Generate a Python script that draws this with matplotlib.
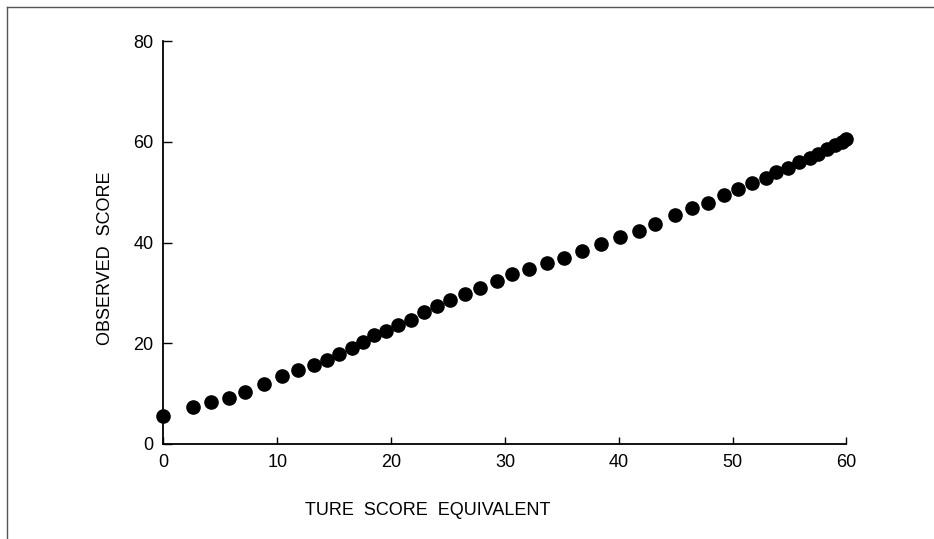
import numpy as np
import matplotlib
matplotlib.use('Agg')
import matplotlib.pyplot as plt
from matplotlib.lines import Line2D

plt.rcParams['font.family'] = ['Liberation Sans', 'DejaVu Sans']

# true score equivalent vs observed score
true_score = [0, 2.6, 4.2, 5.8, 7.2, 8.8, 10.4, 11.85, 13.2, 14.35, 15.45, 16.55,
              17.5, 18.5, 19.55, 20.6, 21.75, 22.85, 24.0, 25.2, 26.5, 27.8, 29.3,
              30.6, 32.1, 33.7, 35.2, 36.8, 38.4, 40.1, 41.8, 43.2, 44.9, 46.4,
              47.8, 49.25, 50.5, 51.7, 52.9, 53.85, 54.9, 55.85, 56.8, 57.5, 58.3,
              59.0, 59.6, 60.0]
observed_score = [5.6, 7.4, 8.4, 9.2, 10.4, 12.0, 13.6, 14.7, 15.7, 16.7, 17.9, 19.1,
                  20.3, 21.6, 22.5, 23.7, 24.7, 26.2, 27.5, 28.7, 29.7, 31.0, 32.3,
                  33.7, 34.7, 35.9, 36.9, 38.4, 39.8, 41.1, 42.3, 43.8, 45.4, 46.8,
                  47.9, 49.4, 50.7, 51.9, 52.9, 54.1, 54.9, 56.0, 56.9, 57.7, 58.6,
                  59.4, 60.0, 60.6]
x_ticks = [0, 10, 20, 30, 40, 50, 60]
y_ticks = [0, 20, 40, 60, 80]

fig = plt.figure(figsize=(9.34, 5.39), dpi=100)
ax = fig.add_axes([0.175, 0.1763, 0.7313, 0.747])

ax.plot(true_score, observed_score, linestyle='none', marker='o',
        markersize=9.5, color='black', clip_on=False)

ax.set_xlim(0, 60)
ax.set_ylim(0, 80)
ax.set_xticks(x_ticks)
ax.set_yticks(y_ticks)
ax.tick_params(direction='in', length=5, width=1, labelsize=13, pad=7, colors='black')
ax.tick_params(axis='y', length=6.5, pad=7)

for side in ['top', 'right']:
    ax.spines[side].set_visible(False)
for side in ['left', 'bottom']:
    ax.spines[side].set_linewidth(1.3)

ax.set_xlabel('TURE  SCORE  EQUIVALENT', fontsize=13)
ax.xaxis.set_label_coords(0.387, -0.145)
ax.set_ylabel('OBSERVED  SCORE', fontsize=13)
ax.yaxis.set_label_coords(-0.073, 0.462)

# frame around the figure
fig.add_artist(Line2D([6.5 / 934, 6.5 / 934], [0, 1 - 7 / 539],
                      color='#555555', linewidth=1, transform=fig.transFigure))
fig.add_artist(Line2D([6.5 / 934, 1], [1 - 7 / 539, 1 - 7 / 539],
                      color='#555555', linewidth=1, transform=fig.transFigure))

fig.savefig('out.png', dpi=100)
